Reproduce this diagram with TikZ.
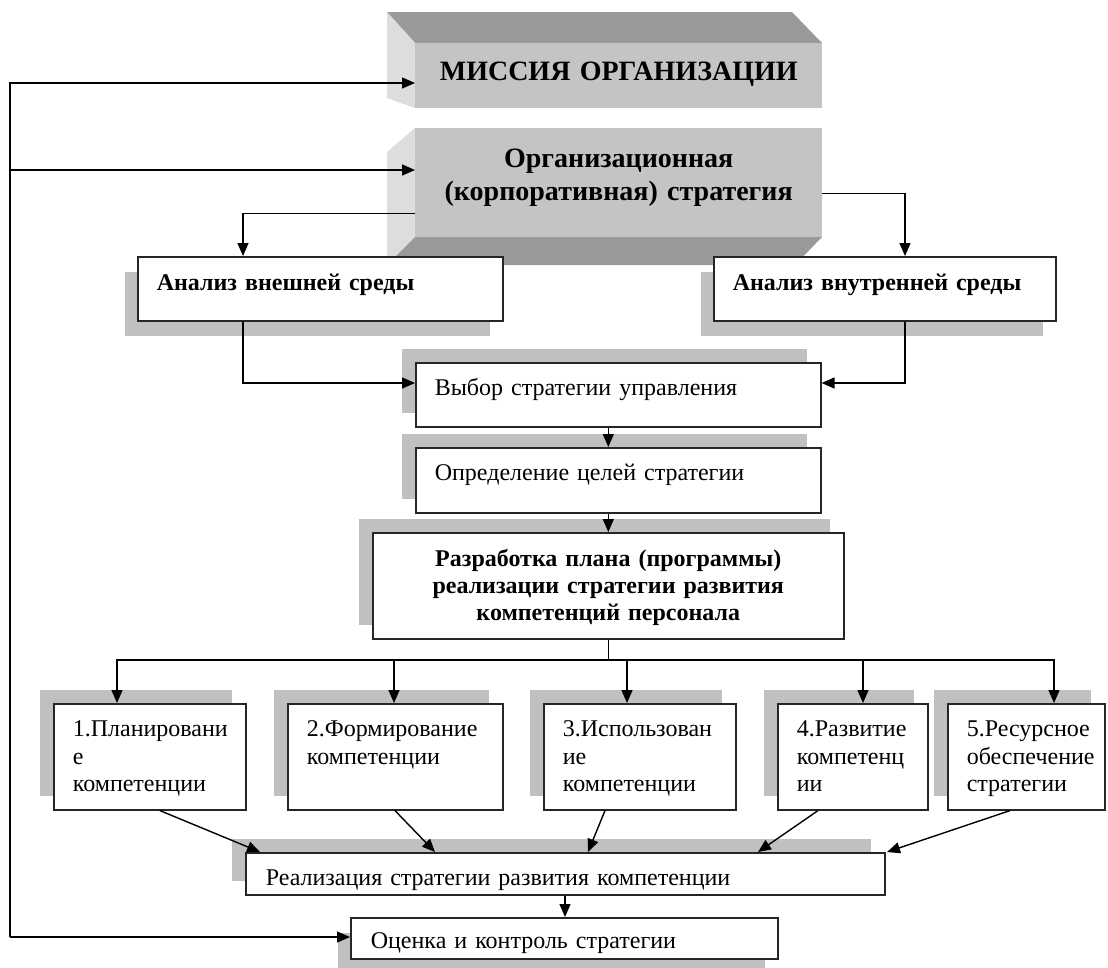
\documentclass[tikz,border=0pt]{standalone}
\usepackage{fontspec}
\setmainfont{Liberation Serif}
\usetikzlibrary{positioning}
\usetikzlibrary{arrows.meta}
\usetikzlibrary{shadows}
\definecolor{shadowgray}{HTML}{C0C0C0}
\definecolor{facegray}{HTML}{C4C4C4}
\definecolor{darkbevel}{HTML}{9A9A9A}
\definecolor{lightbevel}{HTML}{DDDDDD}
\newcommand{\bodyfont}{\fontsize{24}{27.5}\selectfont}
\newcommand{\headfont}{\bfseries\fontsize{28}{33}\selectfont}

\begin{document}
\begin{tikzpicture}[x=1pt, y=-1pt,
    cell/.style={draw=black!85, line width=1.6pt, fill=white, anchor=north west, align=left,
        inner xsep=19pt, inner ysep=0pt, text height=33pt, font=\bodyfont},
    face/.style={fill=facegray, anchor=north west, align=center, text width=407pt,
        inner sep=0pt, font=\headfont},
    shadowup/.style={drop shadow={shadow xshift=-14pt, shadow yshift=14pt, fill=shadowgray, opacity=1}},
    shadowdown/.style={drop shadow={shadow xshift=-13pt, shadow yshift=-15pt, fill=shadowgray, opacity=1}},
    arr/.style={-{Triangle[length=13pt,width=11pt]}, line width=1.4pt},
    link/.style={line width=1.4pt}]

    \useasboundingbox (0,0) rectangle (1108,967);

    % Mission and corporate strategy (bevelled)
    \fill[darkbevel] (387,12) -- (792,12) -- (822,43) -- (415,43) -- cycle;
    \fill[lightbevel] (387,12) -- (415,43) -- (415,108) -- (387,98) -- cycle;
    \node[face, text height=37pt, text depth=28pt] (mission) at (415,43) {МИССИЯ ОРГАНИЗАЦИИ};

    \fill[lightbevel] (387,152) -- (415,128) -- (415,237) -- (387,265) -- cycle;
    \fill[darkbevel] (387,265) -- (415,237) -- (822,237) -- (795,265) -- cycle;
    \node[face, text height=39pt, text depth=70pt] (strategy) at (415,128) {Организационная\\(корпоративная) стратегия};

    % Analysis and strategy boxes
    \node[cell, shadowdown, font=\bodyfont\bfseries, text width=327pt, text height=34pt, text depth=30pt] (vnesh) at (137,256) {Анализ внешней среды};
    \node[cell, shadowdown, font=\bodyfont\bfseries, text width=304pt, text height=34pt, text depth=30pt] (vnutr) at (713,256) {Анализ внутренней среды};
    \node[cell, shadowup, text width=367pt, text depth=31pt] (vybor) at (415,362) {Выбор стратегии управления};
    \node[cell, shadowup, text width=367pt, text depth=32pt] (opred) at (415,447) {Определение целей стратегии};
    \node[cell, shadowup, align=center, font=\bfseries\fontsize{24}{27}\selectfont, text width=433pt, text height=34pt, text depth=72pt] (razr) at (372,532) {Разработка плана (программы)\\реализации стратегии развития\\компетенций персонала};

    % Five directions
    \node[cell, shadowup, text width=154pt, text depth=73pt] (b1) at (53,703) {1.Планировани\\е\\компетенции};
    \node[cell, shadowup, text width=177pt, text depth=73pt] (b2) at (287,703) {2.Формирование\\компетенции};
    \node[cell, shadowup, text width=154pt, text depth=73pt] (b3) at (543,703) {3.Использован\\ие\\компетенции};
    \node[cell, shadowup, text width=112pt, text depth=73pt] (b4) at (777,703) {4.Развитие\\компетенц\\ии};
    \node[cell, shadowup, text width=119pt, text depth=73pt] (b5) at (947,703) {5.Ресурсное\\обеспечение\\стратегии};

    \node[cell, shadowup, inner xsep=20pt, text width=599pt, text depth=9pt] (real) at (245,852) {Реализация стратегии развития компетенции};
    \node[cell, shadowdown, inner xsep=20pt, text width=387pt, text height=31pt, text depth=10pt] (ocenka) at (350,917) {Оценка и контроль стратегии};

    % Feedback line
    \coordinate (fbtop) at (10,83);
    \coordinate (fbmid) at (10,170);
    \coordinate (fbbot) at (10,937);
    \draw[arr] (fbbot) |- (fbtop -| mission.west);
    \draw[arr] (fbmid) -- (fbmid -| strategy.west);
    \draw[arr] (fbbot) -- (fbbot -| ocenka.west);

    % Flow
    \draw[arr] ([yshift=24pt]strategy.south west) -| ([xshift=106pt]vnesh.north west);
    \draw[arr] ([yshift=-10.5pt]strategy.east) -| ([xshift=192pt]vnutr.north west);
    \draw[arr] ([xshift=106pt]vnesh.south west) |- ([yshift=-21pt]vybor.north west);
    \draw[arr] ([xshift=192pt]vnutr.south west) |- ([yshift=-21pt]vybor.north east);
    \draw[arr] (vybor.south -| razr.north) -- (opred.north -| razr.north);
    \draw[arr] (opred.south -| razr.north) -- (razr.north);

    \foreach \n/\x in {b1/117, b2/394, b3/627, b4/863, b5/1054}{
        \coordinate (top\n) at (\x,660);
        \draw[arr] (top\n) -- (top\n |- \n.north);
    }
    \draw[link] (razr.south) -- (razr.south |- topb1);
    \draw[link, line cap=rect] (topb1) -- (topb5);

    \foreach \n/\s/\e in {b1/107/15, b2/108/190, b3/62/343, b4/41/513, b5/63/642}
        \draw[arr] ([xshift=\s pt]\n.south west) -- ([xshift=\e pt]real.north west);
    \draw[arr] ([xshift=320pt]real.south west) -- ([xshift=215pt]ocenka.north west);
\end{tikzpicture}
\end{document}
